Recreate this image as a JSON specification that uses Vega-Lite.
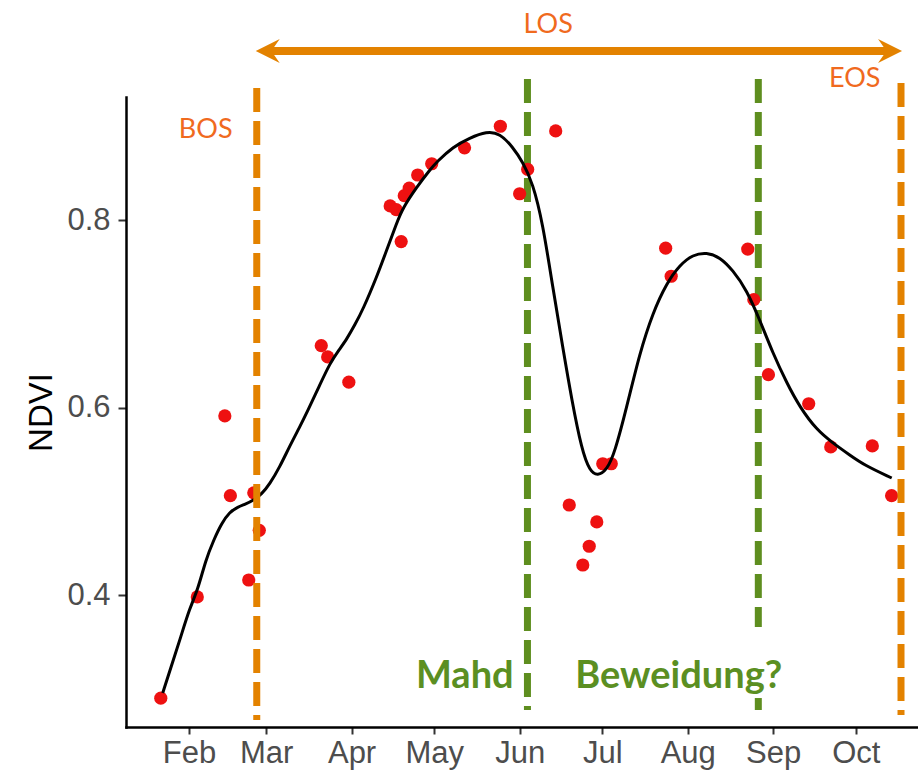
{
  "$schema": "https://vega.github.io/schema/vega-lite/v6.json",
  "width": 792,
  "height": 630,
  "autosize": {"type": "none"},
  "padding": {"left": 126, "top": 97, "right": 0, "bottom": 46},
  "background": "white",
  "config": {"view": {"stroke": null}},
  "datasets": {
    "points": [
      {"date": "2019-01-21T18:00:00Z", "value": 0.290},
      {"date": "2019-02-04T00:00:00Z", "value": 0.398},
      {"date": "2019-02-14T00:00:00Z", "value": 0.591},
      {"date": "2019-02-16T00:00:00Z", "value": 0.506},
      {"date": "2019-02-22T16:00:00Z", "value": 0.416},
      {"date": "2019-02-24T12:00:00Z", "value": 0.509},
      {"date": "2019-02-26T12:00:00Z", "value": 0.469},
      {"date": "2019-03-21T00:00:00Z", "value": 0.666},
      {"date": "2019-03-23T08:00:00Z", "value": 0.654},
      {"date": "2019-03-31T00:00:00Z", "value": 0.627},
      {"date": "2019-04-15T00:00:00Z", "value": 0.815},
      {"date": "2019-04-17T05:00:00Z", "value": 0.811},
      {"date": "2019-04-19T00:00:00Z", "value": 0.777},
      {"date": "2019-04-20T03:00:00Z", "value": 0.826},
      {"date": "2019-04-21T22:00:00Z", "value": 0.834},
      {"date": "2019-04-25T00:00:00Z", "value": 0.848},
      {"date": "2019-04-30T02:00:00Z", "value": 0.860},
      {"date": "2019-05-12T00:00:00Z", "value": 0.877},
      {"date": "2019-05-25T00:00:00Z", "value": 0.900},
      {"date": "2019-06-01T00:00:00Z", "value": 0.828},
      {"date": "2019-06-03T22:00:00Z", "value": 0.854},
      {"date": "2019-06-14T02:00:00Z", "value": 0.895},
      {"date": "2019-06-19T00:00:00Z", "value": 0.496},
      {"date": "2019-06-23T22:00:00Z", "value": 0.432},
      {"date": "2019-06-26T06:00:00Z", "value": 0.452},
      {"date": "2019-06-29T00:00:00Z", "value": 0.478},
      {"date": "2019-07-01T04:00:00Z", "value": 0.540},
      {"date": "2019-07-04T06:00:00Z", "value": 0.540},
      {"date": "2019-07-24T00:00:00Z", "value": 0.770},
      {"date": "2019-07-26T00:00:00Z", "value": 0.740},
      {"date": "2019-08-22T19:00:00Z", "value": 0.769},
      {"date": "2019-08-25T00:00:00Z", "value": 0.715},
      {"date": "2019-08-30T07:00:00Z", "value": 0.635},
      {"date": "2019-09-13T22:00:00Z", "value": 0.604},
      {"date": "2019-09-21T22:00:00Z", "value": 0.558},
      {"date": "2019-10-07T00:00:00Z", "value": 0.559},
      {"date": "2019-10-14T00:00:00Z", "value": 0.506}
    ],
    "curve": [
      {"date": "2019-01-22T11:00:00Z", "value": 0.2955},
      {"date": "2019-01-25T17:00:00Z", "value": 0.3253},
      {"date": "2019-01-29T00:00:00Z", "value": 0.3552},
      {"date": "2019-02-01T06:00:00Z", "value": 0.3861},
      {"date": "2019-02-04T04:00:00Z", "value": 0.4053},
      {"date": "2019-02-07T01:00:00Z", "value": 0.4373},
      {"date": "2019-02-09T23:00:00Z", "value": 0.4587},
      {"date": "2019-02-12T21:00:00Z", "value": 0.4768},
      {"date": "2019-02-15T18:00:00Z", "value": 0.4885},
      {"date": "2019-02-18T16:00:00Z", "value": 0.4939},
      {"date": "2019-02-21T14:00:00Z", "value": 0.4971},
      {"date": "2019-02-24T12:00:00Z", "value": 0.5013},
      {"date": "2019-02-27T09:00:00Z", "value": 0.5077},
      {"date": "2019-03-02T07:00:00Z", "value": 0.5184},
      {"date": "2019-03-05T22:00:00Z", "value": 0.5365},
      {"date": "2019-03-09T13:00:00Z", "value": 0.5589},
      {"date": "2019-03-13T04:00:00Z", "value": 0.5792},
      {"date": "2019-03-15T17:00:00Z", "value": 0.5941},
      {"date": "2019-03-20T11:00:00Z", "value": 0.6240},
      {"date": "2019-03-24T02:00:00Z", "value": 0.6470},
      {"date": "2019-03-27T17:00:00Z", "value": 0.6625},
      {"date": "2019-03-30T06:00:00Z", "value": 0.6730},
      {"date": "2019-04-02T04:00:00Z", "value": 0.6880},
      {"date": "2019-04-05T01:00:00Z", "value": 0.7040},
      {"date": "2019-04-10T03:00:00Z", "value": 0.7392},
      {"date": "2019-04-13T18:00:00Z", "value": 0.7680},
      {"date": "2019-04-17T09:00:00Z", "value": 0.7968},
      {"date": "2019-04-19T14:00:00Z", "value": 0.8128},
      {"date": "2019-04-24T16:00:00Z", "value": 0.8352},
      {"date": "2019-04-29T09:00:00Z", "value": 0.8533},
      {"date": "2019-05-01T22:00:00Z", "value": 0.8619},
      {"date": "2019-05-07T17:00:00Z", "value": 0.8779},
      {"date": "2019-05-13T21:00:00Z", "value": 0.8875},
      {"date": "2019-05-20T01:00:00Z", "value": 0.8945},
      {"date": "2019-05-24T19:00:00Z", "value": 0.8925},
      {"date": "2019-05-29T12:00:00Z", "value": 0.8779},
      {"date": "2019-06-02T03:00:00Z", "value": 0.8619},
      {"date": "2019-06-05T18:00:00Z", "value": 0.8395},
      {"date": "2019-06-09T09:00:00Z", "value": 0.7968},
      {"date": "2019-06-13T00:00:00Z", "value": 0.7285},
      {"date": "2019-06-16T15:00:00Z", "value": 0.6645},
      {"date": "2019-06-19T22:00:00Z", "value": 0.6080},
      {"date": "2019-06-23T13:00:00Z", "value": 0.5547},
      {"date": "2019-06-26T11:00:00Z", "value": 0.5320},
      {"date": "2019-06-29T08:00:00Z", "value": 0.5270},
      {"date": "2019-07-02T15:00:00Z", "value": 0.5333},
      {"date": "2019-07-05T12:00:00Z", "value": 0.5515},
      {"date": "2019-07-09T21:00:00Z", "value": 0.6005},
      {"date": "2019-07-14T14:00:00Z", "value": 0.6581},
      {"date": "2019-07-19T07:00:00Z", "value": 0.7008},
      {"date": "2019-07-24T09:00:00Z", "value": 0.7328},
      {"date": "2019-07-29T03:00:00Z", "value": 0.7520},
      {"date": "2019-08-02T20:00:00Z", "value": 0.7630},
      {"date": "2019-08-07T22:00:00Z", "value": 0.7655},
      {"date": "2019-08-12T15:00:00Z", "value": 0.7605},
      {"date": "2019-08-17T08:00:00Z", "value": 0.7467},
      {"date": "2019-08-22T10:00:00Z", "value": 0.7253},
      {"date": "2019-08-27T04:00:00Z", "value": 0.6933},
      {"date": "2019-08-31T21:00:00Z", "value": 0.6581},
      {"date": "2019-09-05T23:00:00Z", "value": 0.6261},
      {"date": "2019-09-10T16:00:00Z", "value": 0.6005},
      {"date": "2019-09-16T20:00:00Z", "value": 0.5760},
      {"date": "2019-09-22T16:00:00Z", "value": 0.5621},
      {"date": "2019-09-28T20:00:00Z", "value": 0.5493},
      {"date": "2019-10-04T00:00:00Z", "value": 0.5387},
      {"date": "2019-10-14T01:00:00Z", "value": 0.5248}
    ],
    "vlines_green": [
      {"date": "2019-06-03T20:00:00Z", "value": 0.9504, "value2": 0.2773},
      {"date": "2019-08-26T15:00:00Z", "value": 0.9504, "value2": 0.3659},
      {"date": "2019-08-26T15:00:00Z", "value": 0.2901, "value2": 0.2773}
    ],
    "vlines_orange": [
      {"date": "2019-02-25T14:00:00Z", "value": 0.9408, "value2": 0.2667},
      {"date": "2019-10-17T10:00:00Z", "value": 0.9461, "value2": 0.2720}
    ],
    "arrow": [
      {"date": "2019-02-28T20:00:00Z", "date2": "2019-10-14T04:00:00Z", "value": 0.9803}
    ],
    "heads": [
      {"date": "2019-02-25T05:00:00Z", "value": 0.9803, "dir": "left"},
      {"date": "2019-10-17T19:00:00Z", "value": 0.9803, "dir": "right"}
    ],
    "labels_orange": [
      {"label": "LOS", "date": "2019-06-11T09:00:00Z", "value": 0.9995},
      {"label": "BOS", "date": "2019-02-07T01:00:00Z", "value": 0.8875},
      {"label": "EOS", "date": "2019-09-30T15:00:00Z", "value": 0.9419}
    ],
    "labels_green": [
      {"label": "Mahd", "date": "2019-05-12T02:00:00Z", "value": 0.3008},
      {"label": "Beweidung?", "date": "2019-07-28T18:00:00Z", "value": 0.3008}
    ]
  },
  "encoding": {
    "x": {
      "field": "date", "type": "temporal",
      "scale": {"type": "utc", "nice": false, "domain": [{"year": 2019, "month": 1, "date": 9, "hours": 3, "utc": true}, {"year": 2019, "month": 10, "date": 23, "hours": 14, "utc": true}]},
      "axis": {
        "title": null,
        "values": [
          {"year": 2019, "month": 2, "date": 1, "utc": true},
          {"year": 2019, "month": 3, "date": 1, "utc": true},
          {"year": 2019, "month": 4, "date": 1, "utc": true},
          {"year": 2019, "month": 5, "date": 1, "utc": true},
          {"year": 2019, "month": 6, "date": 1, "utc": true},
          {"year": 2019, "month": 7, "date": 1, "utc": true},
          {"year": 2019, "month": 8, "date": 1, "utc": true},
          {"year": 2019, "month": 9, "date": 1, "utc": true},
          {"year": 2019, "month": 10, "date": 1, "utc": true}
        ],
        "labelExpr": "utcFormat(datum.value, '%b')",
        "grid": false, "domainColor": "#000000", "domainWidth": 2.5, "domainCap": "square",
        "tickColor": "#333333", "tickWidth": 2, "tickSize": 7,
        "labelFont": "Liberation Sans", "labelFontSize": 31, "labelColor": "#4D4D4D", "labelPadding": 4,
        "labelFlush": false, "labelOverlap": false
      }
    },
    "y": {
      "field": "value", "type": "quantitative",
      "scale": {"domain": [0.2592, 0.9312], "nice": false, "zero": false},
      "axis": {
        "title": "NDVI", "values": [0.4, 0.6, 0.8], "format": ".1f",
        "grid": false, "domainColor": "#000000", "domainWidth": 2.5, "domainCap": "square",
        "tickColor": "#333333", "tickWidth": 2, "tickSize": 8,
        "labelFont": "Liberation Sans", "labelFontSize": 31, "labelColor": "#4D4D4D", "labelPadding": 8,
        "titleFont": "Liberation Sans", "titleFontSize": 33, "titleFontWeight": "normal", "titleColor": "#000000", "titlePadding": 8
      }
    }
  },
  "layer": [
    {
      "data": {"name": "vlines_green"},
      "mark": {"type": "rule", "color": "#5E8E1F", "strokeWidth": 7, "strokeDash": [24, 9], "strokeCap": "butt"},
      "encoding": {"y2": {"field": "value2"}}
    },
    {
      "data": {"name": "points"},
      "mark": {"type": "point", "filled": true, "color": "#EE1111", "size": 175, "opacity": 1, "strokeWidth": 0}
    },
    {
      "data": {"name": "curve"},
      "mark": {"type": "line", "color": "#000000", "strokeWidth": 3, "interpolate": "basis"}
    },
    {
      "data": {"name": "vlines_orange"},
      "mark": {"type": "rule", "color": "#E38200", "strokeWidth": 7, "strokeDash": [24, 9], "strokeCap": "butt"},
      "encoding": {"y2": {"field": "value2"}}
    },
    {
      "data": {"name": "arrow"},
      "mark": {"type": "rule", "color": "#E38200", "strokeWidth": 8},
      "encoding": {"x2": {"field": "date2"}}
    },
    {
      "data": {"name": "heads"},
      "mark": {"type": "point", "filled": true, "color": "#E38200", "size": 576, "opacity": 1, "strokeWidth": 0},
      "encoding": {
        "shape": {"field": "dir", "type": "nominal", "legend": null, "scale": {"domain": ["left", "right"], "range": ["M0,0L2,-1L1.3,0L2,1Z", "M0,0L-2,-1L-1.3,0L-2,1Z"]}}
      }
    },
    {
      "data": {"name": "labels_orange"},
      "mark": {"type": "text", "font": "Lato", "fontSize": 27, "color": "#F06A1E", "align": "center", "baseline": "alphabetic"},
      "encoding": {"text": {"field": "label"}}
    },
    {
      "data": {"name": "labels_green"},
      "mark": {"type": "text", "font": "Lato", "fontSize": 38, "fontWeight": "bold", "color": "#5B8F22", "align": "center", "baseline": "alphabetic"},
      "encoding": {"text": {"field": "label"}}
    }
  ]
}
